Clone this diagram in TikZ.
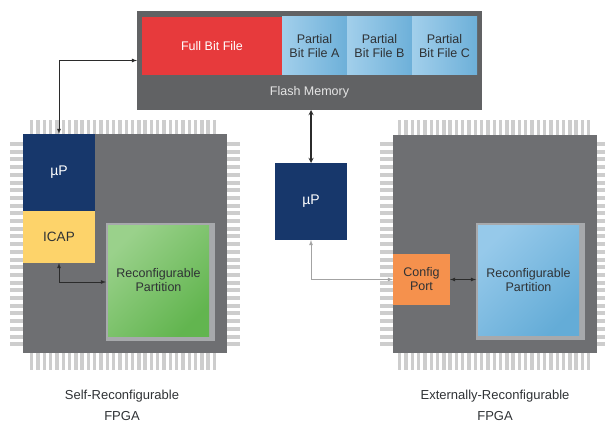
\documentclass[tikz,border=0pt]{standalone}
\usepackage{fontspec}
\setmainfont{Liberation Sans}
\usetikzlibrary{arrows,positioning}

\definecolor{diegray}{HTML}{6E6F72}
\definecolor{flashgray}{HTML}{616264}
\definecolor{framegray}{HTML}{A7A9AC}
\definecolor{pingray}{HTML}{CDCDCD}
\definecolor{bitred}{HTML}{E73A3C}
\definecolor{bitlight}{HTML}{A2CFEB}
\definecolor{bitdark}{HTML}{6DB0D9}
\definecolor{upblue}{HTML}{17376B}
\definecolor{icapyel}{HTML}{FDD36A}
\definecolor{cfgorange}{HTML}{F5914D}
\definecolor{greenA}{HTML}{9AD18B}
\definecolor{greenB}{HTML}{62B54F}
\definecolor{blueA}{HTML}{96C9EA}
\definecolor{blueB}{HTML}{64ACD7}
\definecolor{txtdark}{HTML}{2F3235}
\definecolor{memtext}{HTML}{E6E6E6}
\definecolor{linkdark}{HTML}{2B2B2B}
\definecolor{linklight}{HTML}{A3A3A3}

\begin{document}
\begin{tikzpicture}
	[
		x=1pt, y=-1pt,
		>=latex,
		B/.style = {rectangle, align=center, draw=none, inner sep=0pt, outer sep=0pt, font=\fontsize{12.5}{14}\selectfont, text=txtdark},
		W/.style = {B, text=white},
		U/.style = {W, fill=upblue, minimum width=72, minimum height=77, font=\fontsize{14}{16}\selectfont},
		L/.style = {rectangle, align=center, draw=none, fill=none, font=\fontsize{13}{21}\selectfont, text=txtdark},
		pin/.style = {fill=pingray, draw=none},
		link/.style = {draw=linkdark, line width=0.8pt},
	]

	\useasboundingbox (0,0) rectangle (605,425);

	% pins, self-reconfigurable FPGA
	\foreach \x in {30,36.3,...,218} {
		\fill[pin] (\x,120) rectangle ++(3.4,14);
		\fill[pin] (\x,353) rectangle ++(3.4,17);
	}
	\foreach \y in {142,149.7,...,348} {
		\fill[pin] (10,\y) rectangle ++(13,4);
		\fill[pin] (227,\y) rectangle ++(13,4);
	}

	% pins, externally-reconfigurable FPGA
	\foreach \x in {398,404.3,...,591} {
		\fill[pin] (\x,120) rectangle ++(3.4,15);
		\fill[pin] (\x,353) rectangle ++(3.4,17);
	}
	\foreach \y in {142,149.7,...,348} {
		\fill[pin] (380,\y) rectangle ++(13,4);
		\fill[pin] (597,\y) rectangle ++(8,4);
	}

	% dies
	\node[B, fill=diegray, minimum width=204, minimum height=219] (dieL) at (125,243.5) {};
	\node[B, fill=diegray, minimum width=204, minimum height=218] (dieR) at (495,244) {};

	% flash memory
	\node[B, fill=flashgray, minimum width=345, minimum height=99] (flash) at (309.5,60.5) {};
	\node[W, text=memtext] (memlbl) at (309.5,92) {Flash Memory};
	\node[W, fill=bitred, minimum width=140, minimum height=58] (full) at (212,46) {Full Bit File};
	\node[B, left color=bitlight, right color=bitdark, minimum width=65, minimum height=58] (partA) at (314.5,46) {Partial\\Bit File A};
	\node[B, left color=bitlight, right color=bitdark, minimum width=65, minimum height=58] (partB) at (379.5,46) {Partial\\Bit File B};
	\node[B, left color=bitlight, right color=bitdark, minimum width=65, minimum height=58] (partC) at (444.5,46) {Partial\\Bit File C};

	% self-reconfigurable FPGA
	\node[U] (upL) at (59,172.5) {µP};
	\node[B, fill=icapyel, minimum width=72, minimum height=52, font=\fontsize{13.5}{16}\selectfont] (icap) at (59,237) {ICAP};
	\node[B, fill=framegray, minimum width=109, minimum height=118] (rpL) at (160.5,282) {};
	\node[B, top color=greenA, bottom color=greenB, shading angle=45, minimum width=101, minimum height=111] (rpLin) at (158.5,280.5) {Reconfigurable\\Partition};

	% external processor
	\node[U] (upM) at (311,201.5) {µP};

	% externally-reconfigurable FPGA
	\node[B, fill=cfgorange, minimum width=57, minimum height=51] (cfg) at (421.5,279.5) {Config\\Port};
	\node[B, fill=framegray, minimum width=109, minimum height=117] (rpR) at (530.5,281.5) {};
	\node[B, top color=blueA, bottom color=blueB, shading angle=45, minimum width=101, minimum height=110] (rpRin) at (528.5,280) {Reconfigurable\\Partition};

	% captions
	\node[L] (selfL) at (122,405) {Self-Reconfigurable\\FPGA};
	\node[L] (extL) at (495,405) {Externally-Reconfigurable\\FPGA};

	% connections
	\draw[link, <->] (flash.west) -| (upL.north);
	\draw[link, <->, line width=1.3pt, >=stealth] (upM.north |- flash.south) -- (upM.north);
	\draw[link, <->] (icap.south) |- (rpL.west);
	\draw[link, <->, draw=linklight] (upM.south) |- (cfg.west);
	\draw[link, <->] (cfg.east) -- (cfg.east -| rpR.west);

\end{tikzpicture}
\end{document}
